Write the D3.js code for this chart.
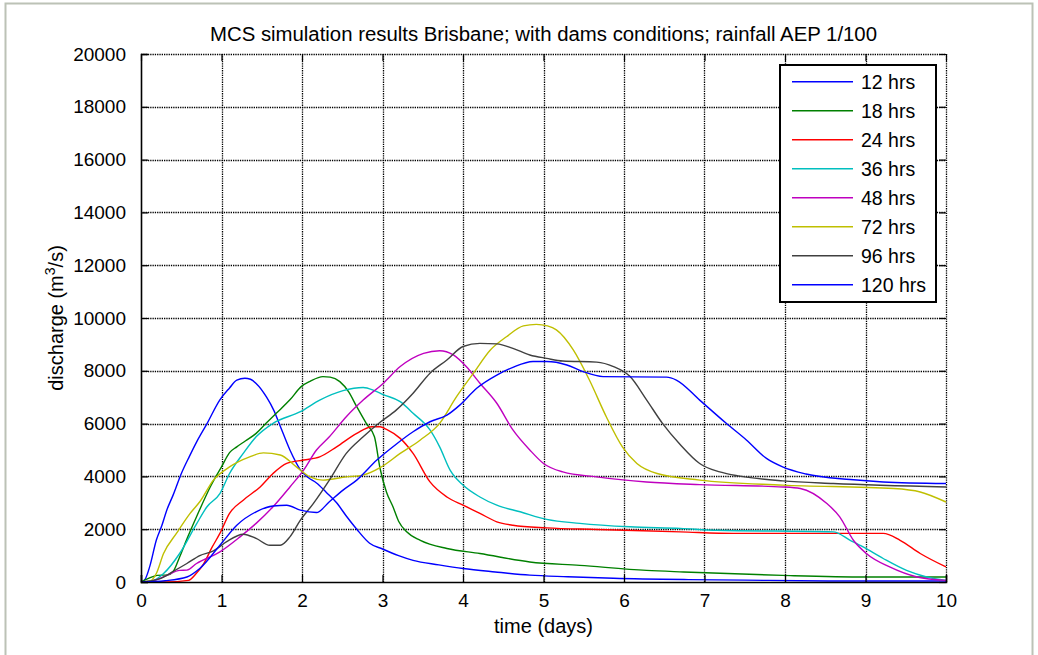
<!DOCTYPE html>
<html>
<head>
<meta charset="utf-8">
<script src="https://cdn.jsdelivr.net/npm/d3@7"></script>
<style>
    html, body { margin: 0; padding: 0; background: #fff; }
    text { font-family: "Liberation Sans", Arial, sans-serif; fill: #000; }
</style>
</head>
<body>
<div id="chart"></div>
<script>
(function () {
    "use strict";

    // discharge hydrographs, [time (days), discharge (m3/s)]
    const hrs12 = [[0,0],[0.05,100],[0.11,600],[0.19,1580],[0.26,2150],[0.32,2720],[0.4,3300],[0.5,4100],[0.6,4750],[0.69,5300],[0.82,6000],[0.98,6900],[1.1,7350],[1.19,7650],[1.29,7720],[1.36,7680],[1.43,7520],[1.56,7000],[1.65,6500],[1.73,5900],[1.85,5000],[1.98,4250],[2.08,3950],[2.18,3750],[2.3,3400],[2.43,3000],[2.55,2500],[2.68,2000],[2.84,1470],[3.0,1250],[3.2,1000],[3.38,820],[3.7,650],[4.0,510],[4.4,380],[4.83,260],[5.3,200],[5.87,140],[6.8,90],[7.5,70],[8.6,40],[10,40]];
    const hrs18 = [[0,0],[0.1,150],[0.2,250],[0.33,270],[0.4,400],[0.48,950],[0.58,1700],[0.69,2470],[0.86,3600],[1.0,4360],[1.1,4900],[1.19,5120],[1.3,5350],[1.43,5630],[1.55,6000],[1.68,6390],[1.85,6900],[1.99,7400],[2.1,7600],[2.26,7780],[2.35,7760],[2.47,7590],[2.58,7200],[2.68,6640],[2.8,6000],[2.9,5500],[2.97,4300],[3.05,3400],[3.13,2850],[3.2,2300],[3.3,1900],[3.47,1580],[3.8,1270],[4.21,1080],[4.83,760],[5.45,630],[6.28,440],[6.74,380],[7.97,250],[9.0,190],[10,190]];
    const hrs24 = [[0,0],[0.3,0],[0.59,60],[0.68,300],[0.78,700],[0.88,1300],[0.98,1840],[1.1,2600],[1.27,3100],[1.48,3600],[1.64,4110],[1.81,4490],[2.02,4620],[2.22,4740],[2.43,5120],[2.68,5630],[2.87,5880],[2.97,5880],[3.05,5780],[3.22,5440],[3.38,4870],[3.59,3790],[3.8,3220],[4.0,2910],[4.21,2600],[4.42,2280],[4.62,2150],[5.04,2050],[5.66,1990],[6.7,1900],[7.36,1840],[9.22,1840],[9.43,1580],[9.68,1080],[10,570]];
    const hrs36 = [[0,0],[0.15,50],[0.28,320],[0.48,1080],[0.69,2200],[0.82,2850],[0.98,3350],[1.1,4110],[1.27,4870],[1.43,5500],[1.64,6010],[1.98,6450],[2.22,6890],[2.51,7250],[2.76,7370],[2.9,7250],[3.01,7100],[3.22,6830],[3.38,6390],[3.59,5760],[3.71,5120],[3.84,4240],[4.0,3670],[4.21,3220],[4.42,2910],[4.71,2660],[5.04,2370],[5.45,2220],[6.07,2090],[6.7,2030],[7.15,1960],[8.6,1900],[8.81,1580],[8.97,1330],[9.22,890],[9.51,440],[9.76,190],[10,60]];
    const hrs48 = [[0,0],[0.15,50],[0.32,250],[0.48,440],[0.57,450],[0.69,700],[0.98,1140],[1.23,1710],[1.43,2220],[1.64,2850],[1.85,3600],[2.02,4240],[2.18,5000],[2.34,5500],[2.55,6260],[2.76,6890],[3.01,7530],[3.22,8160],[3.51,8660],[3.71,8760],[3.88,8600],[4.04,8160],[4.21,7530],[4.42,6770],[4.62,5760],[4.83,5000],[5.0,4490],[5.24,4170],[5.66,3980],[6.28,3790],[6.94,3690],[7.98,3600],[8.19,3540],[8.52,2970],[8.68,2470],[8.85,1580],[9.01,1080],[9.3,570],[9.64,190],[10,60]];
    const hrs72 = [[0,0],[0.12,50],[0.19,320],[0.28,1080],[0.44,1840],[0.61,2600],[0.73,3040],[0.9,3860],[1.1,4360],[1.35,4740],[1.52,4890],[1.73,4810],[1.93,4360],[2.1,3980],[2.26,3860],[2.55,3980],[2.76,4050],[2.97,4330],[3.22,4870],[3.47,5380],[3.71,6010],[3.92,7020],[4.13,7910],[4.34,8790],[4.54,9290],[4.75,9700],[4.91,9760],[5.05,9700],[5.16,9550],[5.37,8790],[5.57,7650],[5.78,6260],[5.98,5120],[6.16,4490],[6.41,4110],[6.94,3860],[7.97,3670],[9.35,3540],[9.68,3410],[10,3030]];
    const hrs96 = [[0,0],[0.24,130],[0.4,400],[0.57,700],[0.73,1000],[0.9,1180],[1.06,1520],[1.27,1810],[1.43,1650],[1.6,1390],[1.73,1390],[1.85,1710],[1.98,2340],[2.14,2970],[2.34,3860],[2.55,4870],[2.76,5500],[2.97,6050],[3.17,6510],[3.38,7150],[3.59,7910],[3.8,8410],[4.0,8920],[4.21,9040],[4.42,9020],[4.62,8850],[4.83,8600],[5.04,8470],[5.24,8370],[5.66,8330],[5.87,8160],[6.07,7800],[6.28,6900],[6.48,6000],[6.7,5200],[6.94,4490],[7.19,4170],[7.44,4010],[7.97,3830],[8.6,3730],[10,3600]];
    const hrs120 = [[0,0],[0.3,50],[0.57,190],[0.73,510],[0.98,1390],[1.19,2150],[1.43,2660],[1.64,2880],[1.81,2910],[1.98,2720],[2.18,2630],[2.34,3040],[2.51,3480],[2.68,3860],[2.93,4620],[3.17,5220],[3.38,5690],[3.59,6070],[3.8,6320],[3.96,6700],[4.17,7340],[4.42,7840],[4.62,8130],[4.87,8350],[5.04,8350],[5.29,8220],[5.49,7970],[5.74,7780],[6.53,7760],[6.65,7650],[6.94,6890],[7.27,6010],[7.52,5380],[7.77,4680],[7.97,4360],[8.26,4090],[8.81,3880],[9.22,3790],[10,3730]];

    const durations = ["12 hrs", "18 hrs", "24 hrs", "36 hrs", "48 hrs", "72 hrs", "96 hrs", "120 hrs"];
    const seriesData = [hrs12, hrs18, hrs24, hrs36, hrs48, hrs72, hrs96, hrs120];
    const colors = ["#0000ff", "#008000", "#ff0000", "#00bfbf", "#bf00bf", "#bfbf00", "#404040", "#0000ff"];
    const xTicks = [0, 1, 2, 3, 4, 5, 6, 7, 8, 9, 10];
    const yTicks = [0, 2000, 4000, 6000, 8000, 10000, 12000, 14000, 16000, 18000, 20000];

    const W = 1038, H = 655;
    const left = 141, right = 946, top = 54, bottom = 582;
    const TICK = 7;

    let svg = d3.select("#chart").append("svg")
        .attr("width", W).attr("height", H);

    // outer figure frame
    svg.append("rect")
        .attr("x", 5.5).attr("y", 3.5)
        .attr("width", 1027).attr("height", 660)
        .attr("fill", "#fff")
        .attr("stroke", "#bcc2b6").attr("stroke-width", 2);

    let x = d3.scaleLinear().domain([0, 10]).range([left, right]);
    let y = d3.scaleLinear().domain([0, 20000]).range([bottom, top]);

    // dotted grid (also used for the top / right box edges)
    let grid = svg.append("g")
        .attr("stroke", "#000").attr("stroke-width", 1.3)
        .attr("stroke-dasharray", "1.3,1");

    grid.selectAll(".gx").data(xTicks.filter(d => d > 0)).enter()
        .append("line")
        .attr("x1", d => Math.round(x(d)) + 0.5).attr("x2", d => Math.round(x(d)) + 0.5)
        .attr("y1", top).attr("y2", bottom);

    grid.selectAll(".gy").data(yTicks.filter(d => d > 0)).enter()
        .append("line")
        .attr("x1", left).attr("x2", right)
        .attr("y1", d => Math.round(y(d)) + 0.5).attr("y2", d => Math.round(y(d)) + 0.5);

    // hydrographs
    let line = d3.line()
        .x(d => x(d[0]))
        .y(d => y(d[1]))
        .curve(d3.curveMonotoneX);

    svg.append("g").selectAll("path")
        .data(seriesData).enter()
        .append("path")
        .attr("d", line)
        .attr("fill", "none")
        .attr("stroke", (d, i) => colors[i])
        .attr("stroke-width", 1.4)
        .attr("stroke-linejoin", "round");

    // axes
    let xAxis = d3.axisBottom(x).tickValues(xTicks).tickSize(-TICK).tickPadding(TICK + 5);
    let yAxis = d3.axisLeft(y).tickValues(yTicks).tickSize(-TICK).tickPadding(TICK + 8)
        .tickFormat(d3.format("d"));

    let gx = svg.append("g")
        .attr("transform", `translate(0,${bottom})`)
        .call(xAxis);
    let gy = svg.append("g")
        .attr("transform", `translate(${left},0)`)
        .call(yAxis);

    // ticks mirrored on top and right edges
    svg.append("g")
        .attr("transform", `translate(0,${top})`)
        .call(d3.axisTop(x).tickValues(xTicks).tickSize(-TICK).tickFormat(""))
        .call(g => g.select(".domain").remove());
    svg.append("g")
        .attr("transform", `translate(${right},0)`)
        .call(d3.axisRight(y).tickValues(yTicks).tickSize(-TICK).tickFormat(""))
        .call(g => g.select(".domain").remove());

    [gx, gy].forEach(g => {
        g.select(".domain").attr("stroke", "#000").attr("stroke-width", 1.6);
        g.selectAll(".tick text")
            .attr("fill", "#000")
            .style("font-size", "19px")
            .style("font-family", "Liberation Sans, Arial, sans-serif");
    });
    svg.selectAll(".tick line").attr("stroke", "#000").attr("stroke-width", 1.2);

    // title and axis labels
    svg.append("text")
        .attr("x", (left + right) / 2).attr("y", 41)
        .attr("text-anchor", "middle")
        .style("font-size", "19.5px")
        .attr("textLength", 667)
        .attr("lengthAdjust", "spacingAndGlyphs")
        .text("MCS simulation results Brisbane; with dams conditions; rainfall AEP 1/100");

    svg.append("text")
        .attr("x", (left + right) / 2).attr("y", 633)
        .attr("text-anchor", "middle")
        .style("font-size", "20px")
        .text("time (days)");

    let yl = svg.append("text")
        .attr("transform", `translate(63,${(top + bottom) / 2}) rotate(-90)`)
        .attr("text-anchor", "middle")
        .style("font-size", "20px");
    yl.append("tspan").text("discharge (m");
    yl.append("tspan").attr("dy", -8).style("font-size", "14px").text("3");
    yl.append("tspan").attr("dy", 8).text("/s)");

    // legend
    let lg = svg.append("g").attr("transform", "translate(780,65)");
    lg.append("rect")
        .attr("width", 156).attr("height", 237)
        .attr("fill", "#fff")
        .attr("stroke", "#000").attr("stroke-width", 2);

    let rows = lg.selectAll(".row").data(durations).enter()
        .append("g")
        .attr("transform", (d, i) => `translate(0,${16.7 + i * 29})`);

    rows.append("line")
        .attr("x1", 12).attr("x2", 73)
        .attr("stroke", (d, i) => colors[i])
        .attr("stroke-width", 1.6);

    rows.append("text")
        .attr("x", 81).attr("y", 7)
        .style("font-size", "19.5px")
        .text(d => d);
})();
</script>
</body>
</html>
